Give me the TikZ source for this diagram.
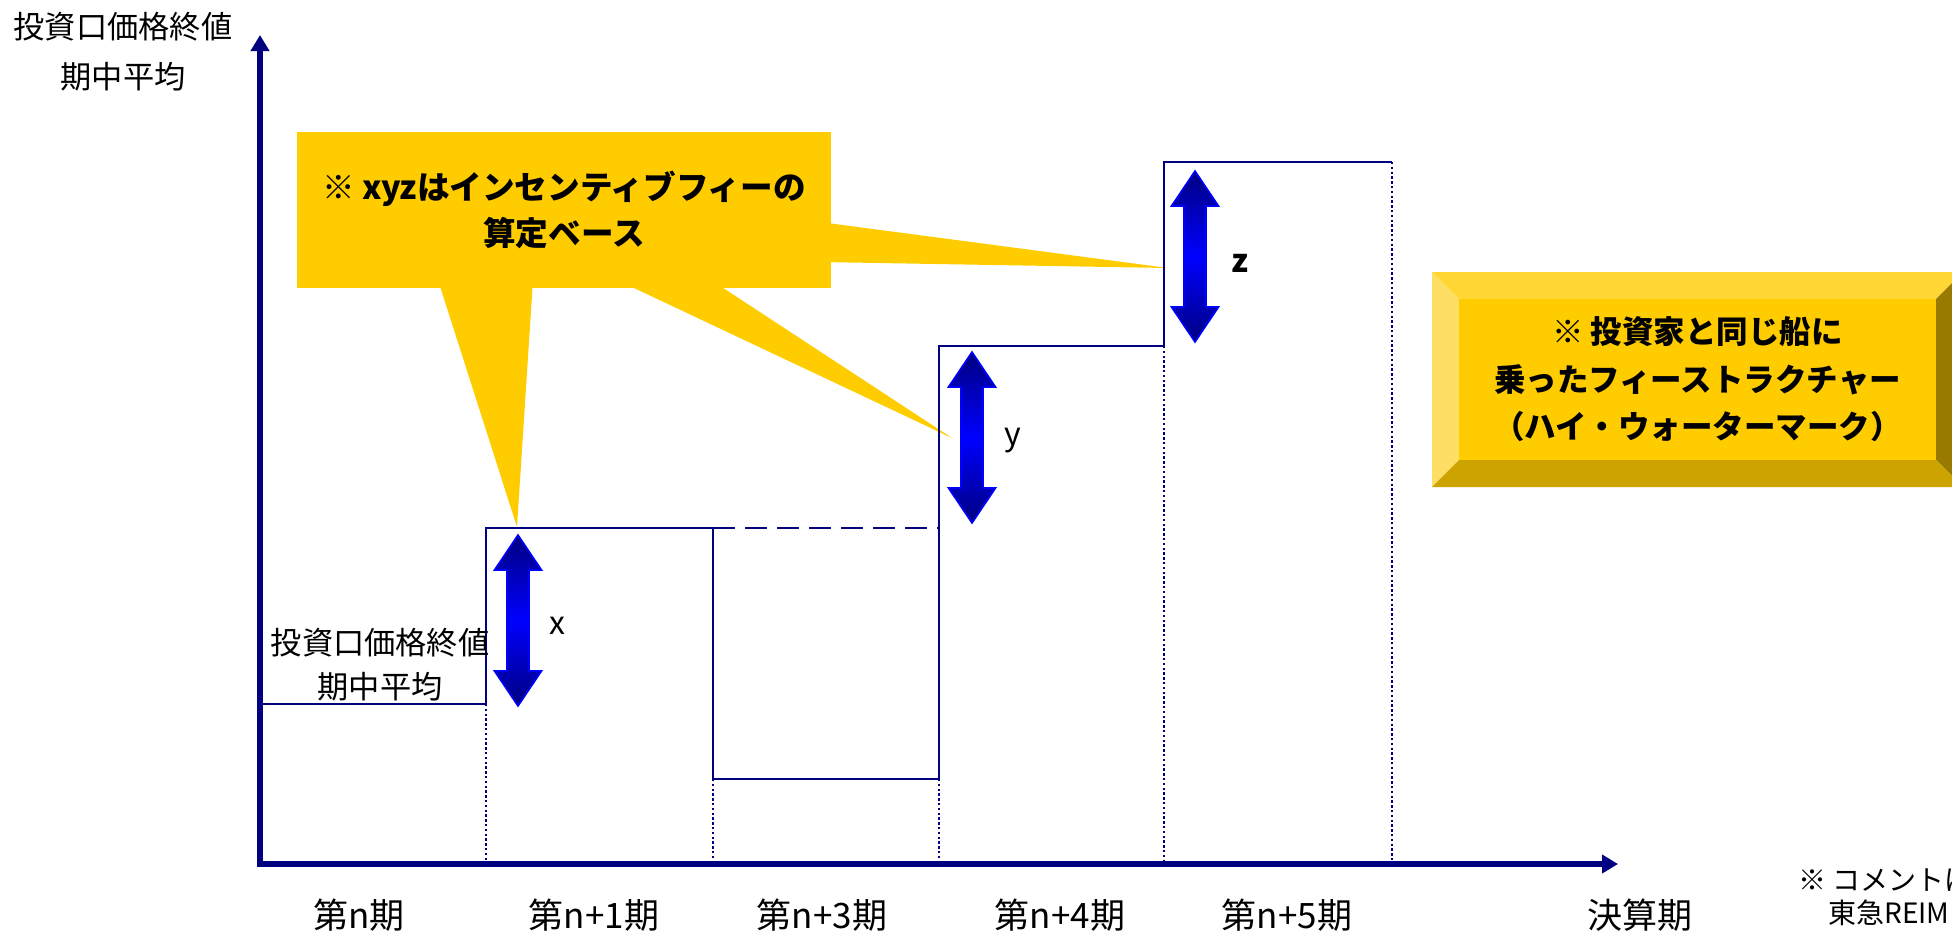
\documentclass[tikz,border=0pt]{standalone}
\usepackage{fontspec}
\newfontfamily\jpfont{Noto Sans CJK JP}
\usepackage{tikz}
\usetikzlibrary{arrows.meta, positioning}
\definecolor{navyline}{RGB}{0,0,128}
\definecolor{gold}{RGB}{255,204,0}
\definecolor{goldtop}{RGB}{255,214,51}
\definecolor{goldleft}{RGB}{255,222,102}
\definecolor{goldbottom}{RGB}{204,163,0}
\definecolor{goldright}{RGB}{153,122,0}
\definecolor{arrowblue}{RGB}{0,0,255}
\tikzset{
  axis/.style={line width=3.2pt, draw=navyline, line cap=rect, -{Triangle[width=9pt,length=8pt]}},
  stepline/.style={line width=1.3pt, draw=navyline},
  dashline/.style={line width=1.3pt, draw=navyline, dash pattern=on 11pt off 5pt},
  guide/.style={line width=1.1pt, draw=navyline, dash pattern=on 1.2pt off 1.2pt},
  updown/.style={draw=arrowblue, line width=0.8pt, top color=navyline, bottom color=navyline, middle color=arrowblue},
  callout/.style={rectangle, fill=gold, minimum width=267pt, minimum height=78pt, inner sep=0pt, align=center, font=\jpfont\bfseries\fontsize{16.3}{23}\selectfont},
  hwmbox/.style={rectangle, fill=gold, minimum width=238.5pt, minimum height=80.5pt, inner sep=0pt, align=center, font=\jpfont\bfseries\fontsize{15.75}{23.75}\selectfont},
  axlabel/.style={align=center, inner sep=0pt, font=\jpfont\fontsize{15.6}{25}\selectfont},
  period/.style={inner sep=0pt, font=\jpfont\fontsize{17.5}{20}\selectfont},
  varlabel/.style={inner sep=0pt, font=\jpfont\fontsize{16}{18}\selectfont},
  note/.style={inner sep=0pt, anchor=west, font=\jpfont\fontsize{14}{16}\selectfont}
}
\begin{document}
\begin{tikzpicture}[x=0.5pt, y=-0.5pt]
\useasboundingbox (0,0) rectangle (1952,933);

% callout (behind the step line)
\node[callout] (fee) at (564,210) {※ xyzはインセンティブフィーの\\算定ベース};
\coordinate (tipx) at (517,527);
\coordinate (tipy) at (952,438);
\coordinate (tipz) at (1168,268);
\fill[gold] (438,280) -- (tipx) -- (533,280) -- cycle;
\fill[gold] (617,280) -- (tipy) -- (711,280) -- cycle;
\fill[gold] (820,222) -- (tipz) -- (820,262) -- cycle;

% axes
\coordinate (origin) at (260,864);
\coordinate (ytop) at (260,35);
\coordinate (xend) at (1618,864);
\draw[axis] (origin) -- (ytop);
\draw[axis] (origin) -- (xend);
\node[axlabel] (ylab) at (123,52) {投資口価格終値\\期中平均};

% step line
\coordinate (p0) at (260,704);
\coordinate (p1) at (486,704);
\coordinate (p2) at (486,528);
\coordinate (p3) at (713,528);
\coordinate (p4) at (713,779);
\coordinate (p5) at (939,779);
\coordinate (p6) at (939,346);
\coordinate (p7) at (1164,346);
\coordinate (p8) at (1164,162);
\coordinate (p9) at (1392,162);
\coordinate (d1) at (939,528);
\draw[stepline] (p0) -- (p1) -- (p2) -- (p3) -- (p4) -- (p5) -- (p6) -- (p7) -- (p8) -- (p9);
\draw[dashline] (p3) -- (d1);

% guides down to the time axis
\coordinate (t1) at (486,861);
\coordinate (t2) at (713,861);
\coordinate (t3) at (939,861);
\coordinate (t4) at (1164,861);
\coordinate (t5) at (1392,861);
\draw[guide] (p1) -- (t1);
\draw[guide] (p4) -- (t2);
\draw[guide] (p5) -- (t3);
\draw[guide] (p7) -- (t4);
\draw[guide] (p9) -- (t5);

\node[axlabel, font=\jpfont\fontsize{15.6}{22}\selectfont] (base) at (380,665) {投資口価格終値\\期中平均};

% up-down arrows
\coordinate (ax) at (518,535);
\coordinate (ay) at (972,352);
\coordinate (az) at (1195,171);
\path[updown] (ax) -- ++(23.5,35) -- ++(-12.5,0) -- ++(0,101) -- ++(12.5,0) -- ++(-23.5,35) -- ++(-23.5,-35) -- ++(12.5,0) -- ++(0,-101) -- ++(-12.5,0) -- cycle;
\path[updown] (ay) -- ++(23.5,35) -- ++(-12.5,0) -- ++(0,101) -- ++(12.5,0) -- ++(-23.5,35) -- ++(-23.5,-35) -- ++(12.5,0) -- ++(0,-101) -- ++(-12.5,0) -- cycle;
\path[updown] (az) -- ++(23.5,35) -- ++(-12.5,0) -- ++(0,101) -- ++(12.5,0) -- ++(-23.5,35) -- ++(-23.5,-35) -- ++(12.5,0) -- ++(0,-101) -- ++(-12.5,0) -- cycle;
\node[varlabel] (xl) at (557,626) {x};
\node[varlabel] (yl) at (1013,441) {y};
\node[varlabel, font=\jpfont\bfseries\fontsize{16}{18}\selectfont] (zl) at (1240,263) {z};

% period labels
\node[period] (n0) at (359,915) {第n期};
\node[period] (n1) at (594,915) {第n+1期};
\node[period] (n3) at (822,915) {第n+3期};
\node[period] (n4) at (1060,915) {第n+4期};
\node[period] (n5) at (1287,915) {第n+5期};
\node[period] (fin) at (1640,915) {決算期};

% bevelled note box
\fill[goldleft] (1432,272) -- (1459,299) -- (1459,460) -- (1432,487) -- cycle;
\fill[goldtop] (1432,272) -- (1963,272) -- (1936,299) -- (1459,299) -- cycle;
\fill[goldright] (1963,272) -- (1936,299) -- (1936,460) -- (1963,487) -- cycle;
\fill[goldbottom] (1432,487) -- (1459,460) -- (1936,460) -- (1963,487) -- cycle;
\node[hwmbox] (hwm) at (1697.5,379.5) {※ 投資家と同じ船に\\乗ったフィーストラクチャー\\（ハイ・ウォーターマーク）};

% comment (cut at the edge)
\node[note] (cm1) at (1798,880) {※ コメントは};
\node[note] (cm2) at (1828,913) {東急REIM};
\end{tikzpicture}
\end{document}
